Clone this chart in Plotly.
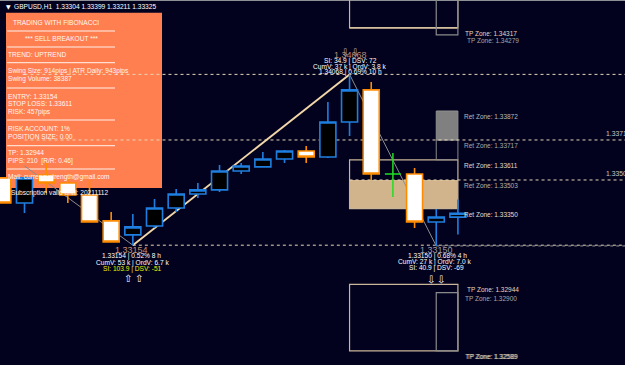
import plotly.graph_objects as go

W, H = 625, 365
BG = "#02021f"
FONT = "Liberation Sans, Arial, sans-serif"

# ---------------- data ----------------
bar_index = list(range(22))
opens  = [1.33514, 1.33380, 1.33530, 1.33487, 1.33423, 1.33284, 1.33209, 1.33257, 1.33353, 1.33428, 1.33450,
          1.33551, 1.33573, 1.33615, 1.33658, 1.33626, 1.33813, 1.33985, 1.33535, 1.33535, 1.33278, 1.33304]
highs  = [1.33514, 1.33514, 1.33594, 1.33514, 1.33503, 1.33332, 1.33321, 1.33401, 1.33455, 1.33487, 1.33583,
          1.33594, 1.33653, 1.33664, 1.33685, 1.33920, 1.34068, 1.34027, 1.33647, 1.33567, 1.33348, 1.33399]
lows   = [1.33380, 1.33326, 1.33433, 1.33380, 1.33278, 1.33171, 1.33154, 1.33246, 1.33332, 1.33407, 1.33439,
          1.33535, 1.33573, 1.33594, 1.33594, 1.33621, 1.33738, 1.33503, 1.33412, 1.33246, 1.33150, 1.33211]
closes = [1.33380, 1.33514, 1.33487, 1.33423, 1.33278, 1.33171, 1.33252, 1.33353, 1.33428, 1.33450, 1.33551,
          1.33578, 1.33615, 1.33658, 1.33626, 1.33813, 1.33985, 1.33535, 1.33535, 1.33278, 1.33305, 1.33325]

swing_low_idx, swing_low = 6, 1.33154
swing_high_idx, swing_high = 16, 1.34068
last_low_idx, last_low = 20, 1.33150
prev_swing_idx, prev_swing = 1, 1.33578
last_idx = 21

tp_top = [1.34317, 1.34279]
tp_top_ceiling = 1.34800
ret_zones = [1.33872, 1.33717, 1.33611, 1.33503, 1.33350]
tp_bottom = [1.32944, 1.32900, 1.32589]

y_range = [1.32513, 1.34466]
x_range = [-0.13, 28.71]

# ---------------- figure ----------------
fig = go.Figure()

norm = [i for i in bar_index if opens[i] != closes[i]]
doji = [i for i in bar_index if opens[i] == closes[i]]

fig.add_trace(go.Candlestick(
    x=[bar_index[i] for i in norm],
    open=[opens[i] for i in norm], high=[highs[i] for i in norm],
    low=[lows[i] for i in norm], close=[closes[i] for i in norm],
    increasing=dict(line=dict(color="#1f7fe0", width=1.6), fillcolor="#000000"),
    decreasing=dict(line=dict(color="#ff8c00", width=1.6), fillcolor="#ffffff"),
    whiskerwidth=0, hoverinfo="skip"))
fig.add_trace(go.Candlestick(
    x=[bar_index[i] for i in doji],
    open=[opens[i] for i in doji], high=[highs[i] for i in doji],
    low=[lows[i] for i in doji], close=[closes[i] for i in doji],
    increasing=dict(line=dict(color="#22dd22", width=1.5), fillcolor="#22dd22"),
    decreasing=dict(line=dict(color="#22dd22", width=1.5), fillcolor="#22dd22"),
    whiskerwidth=0, hoverinfo="skip"))

shapes = []
TAN = "#c9b597"
GRAY = "#8a8a8a"
# zones
shapes.append(dict(type="rect", x0=swing_high_idx, x1=last_idx, y0=ret_zones[4], y1=ret_zones[3],
                   fillcolor="#d2b48c", line=dict(width=0)))
shapes.append(dict(type="rect", x0=swing_high_idx, x1=last_idx, y0=ret_zones[4], y1=ret_zones[2],
                   line=dict(color=TAN, width=1.2)))
shapes.append(dict(type="rect", x0=last_low_idx, x1=last_idx, y0=ret_zones[1], y1=ret_zones[0],
                   fillcolor="#808080", line=dict(color="#909090", width=1)))
shapes.append(dict(type="rect", x0=last_low_idx, x1=last_idx, y0=ret_zones[2], y1=ret_zones[1],
                   line=dict(color=GRAY, width=1)))
shapes.append(dict(type="rect", x0=swing_high_idx, x1=last_idx, y0=tp_top[0], y1=tp_top_ceiling,
                   line=dict(color=TAN, width=1.2)))
shapes.append(dict(type="line", x0=swing_high_idx, x1=last_idx, y0=tp_top[0], y1=tp_top[0],
                   line=dict(color="#e8d2aa", width=1.2)))
shapes.append(dict(type="rect", x0=last_low_idx, x1=last_idx, y0=tp_top[1], y1=tp_top_ceiling,
                   line=dict(color=GRAY, width=1.2)))
shapes.append(dict(type="rect", x0=swing_high_idx, x1=last_idx, y0=tp_bottom[2], y1=tp_bottom[0],
                   line=dict(color=TAN, width=1.2)))
shapes.append(dict(type="rect", x0=last_low_idx, x1=last_idx, y0=tp_bottom[2], y1=tp_bottom[1],
                   line=dict(color=GRAY, width=1.2)))

DASH = dict(color="#e6d6b6", width=1, dash="3px,3px")
shapes.append(dict(type="line", x0=1, x1=x_range[1], y0=swing_high, y1=swing_high, line=DASH))
shapes.append(dict(type="line", x0=1, x1=x_range[1], y0=ret_zones[1], y1=ret_zones[1], line=DASH))
shapes.append(dict(type="line", x0=swing_high_idx, x1=x_range[1], y0=ret_zones[3], y1=ret_zones[3], line=DASH))
shapes.append(dict(type="line", x0=swing_low_idx, x1=x_range[1], y0=swing_low, y1=swing_low, line=DASH))
shapes.append(dict(type="line", x0=last_low_idx, x1=x_range[1], y0=last_low, y1=last_low,
                   line=dict(color="#9a9a9a", width=1, dash="3px,3px")))

# zigzag
shapes.append(dict(type="line", x0=prev_swing_idx, y0=prev_swing, x1=swing_low_idx, y1=swing_low,
                   line=dict(color="#8c8c8c", width=1)))
shapes.append(dict(type="line", x0=swing_high_idx, y0=swing_high, x1=last_low_idx, y1=last_low,
                   line=dict(color="#8c8c8c", width=1)))
shapes.append(dict(type="line", x0=swing_low_idx, y0=swing_low, x1=swing_high_idx, y1=swing_high,
                   line=dict(color="#f2d7a8", width=1.9)))

# info panel
shapes.append(dict(type="rect", xref="paper", yref="paper", x0=6 / W, x1=162 / W,
                   y0=1 - 188 / H, y1=1 - 12.7 / H, fillcolor="#ff7f50", line=dict(width=0)))
for sy in [31, 47, 62.7, 88, 120, 145.7, 169]:
    shapes.append(dict(type="line", xref="paper", yref="paper", x0=7 / W, x1=115 / W,
                       y0=1 - sy / H, y1=1 - sy / H, line=dict(color="#fff2ea", width=1)))
# top window border
shapes.append(dict(type="line", xref="paper", yref="paper", x0=0, x1=1, y0=1, y1=1,
                   line=dict(color="#bfbfbf", width=1.5)))

for s in shapes:
    s.setdefault("layer", "below")

ann = []


def txt(text, x, y, size=6.5, color="#ffffff", xanchor="left", yanchor="middle", family=FONT):
    ann.append(dict(text=text, x=x / W, y=1 - y / H, xref="paper", yref="paper", showarrow=False,
                    xanchor=xanchor, yanchor=yanchor, font=dict(size=size, color=color, family=family),
                    borderpad=0))


# title bar
txt("▼", 5, 6, size=6, family="DejaVu Sans")
txt("GBPUSD,H1\u00a0\u00a01.33304 1.33399 1.33211 1.33325", 13, 6, size=6.6)

panel_lines = [
    (22.7, 11.5, "TRADING WITH FIBONACCI", "left"),
    (38.5, 61, "*** SELL BREAKOUT ***", "center"),
    (55, 7, "TREND: UPTREND", "left"),
    (71, 7, "Swing Size: 914pips | ATR Daily: 943pips", "left"),
    (79.5, 7, "Swing Volume: 38387", "left"),
    (96, 7, "ENTRY: 1.33154", "left"),
    (104, 7, "STOP LOSS: 1.33611", "left"),
    (112, 7, "RISK: 457pips", "left"),
    (128, 7, "RISK ACCOUNT: 1%", "left"),
    (136, 7, "POSITION SIZE: 0.00", "left"),
    (152.7, 7, "TP: 1.32944", "left"),
    (161, 7, "PIPS: 210\u00a0\u00a0[R/R: 0.46]", "left"),
    (177.3, 7, "Mail: currencystrength@gmail.com", "left"),
    (193, 10, "Subscription valid until: 20211112", "left"),
]
for py, px, t, xa in panel_lines:
    txt(t, px, py, size=6.6, color="#fff6f0", xanchor=xa)

# zone labels
zone_labels = [
    (tp_top[0], 462.7, "TP Zone: ", "#e6d8c0"),
    (tp_top[1], 465, "TP Zone: ", "#a8a8a8"),
    (ret_zones[0], 461.7, "Ret Zone: ", "#b8b8b8"),
    (ret_zones[1], 461.7, "Ret Zone: ", "#a8a8a8"),
    (ret_zones[2], 461.7, "Ret Zone: ", "#e0d8c8"),
    (ret_zones[3], 461.7, "Ret Zone: ", "#b8b0a0"),
    (ret_zones[4], 461.7, "Ret Zone: ", "#e6dece"),
    (tp_bottom[0], 465, "TP Zone: ", "#e6d8c0"),
    (tp_bottom[1], 462.7, "TP Zone: ", "#a8a8a8"),
    (tp_bottom[2], 462.7, "TP Zone: ", "#a8a8a8"),
    (tp_bottom[2], 464, "TP Zone: ", "#d8c8a8"),
]
for price, px, pre, col in zone_labels:
    ann.append(dict(text=f"{pre}{price:.5f}", x=px / W, xref="paper", y=price, yref="y",
                    xanchor="left", yanchor="top", showarrow=False, yshift=0,
                    font=dict(size=6.5, color=col, family=FONT)))

# right edge price labels (cut off by the window edge, as in the screenshot)
for price, px in [(ret_zones[1], 603.5), (ret_zones[3], 603.5)]:
    ann.append(dict(text=f"{price:.5f}", x=px / W, xref="paper", y=price, yref="y",
                    xanchor="left", yanchor="bottom", showarrow=False, yshift=1,
                    font=dict(size=6.8, color="#c8c8c8", family=FONT)))

# swing low (left)
txt(f"{swing_low:.5f}", 131, 250, size=9, color="#c8916c", xanchor="center")
txt(f"{swing_low:.5f} | 0.52% 8 h", 131, 256.3, size=6.6, xanchor="center")
txt("CumV: 53 k | OrdV: 6.7 k", 132, 262.5, size=6.6, xanchor="center")
txt("SI: 103.9 | DSV: -51", 132, 268.5, size=6.6, color="#f0f000", xanchor="center")
txt("⇧", 128, 278.5, size=10, xanchor="center", family="DejaVu Sans")
txt("⇧", 138.5, 278.5, size=10, xanchor="center", family="DejaVu Sans")

# swing low (right)
txt(f"{last_low:.5f}", 436.5, 250, size=9, color="#9a9aa6", xanchor="center")
txt(f"{last_low:.5f} | 0.68% 4 h", 437, 256, size=6.6, xanchor="center")
txt("CumV: 27 k | OrdV: 7.0 k", 435, 262.3, size=6.6, xanchor="center")
txt("SI: 40.9 | DSV: -69", 436, 268.3, size=6.6, xanchor="center")
txt("⇩", 430.7, 279, size=10, xanchor="center", family="DejaVu Sans")
txt("⇩", 441, 279, size=10, xanchor="center", family="DejaVu Sans")

# swing high
txt("⇩", 345, 53, size=10, color="#b0b0b8", xanchor="center", family="DejaVu Sans")
txt("⇩", 355, 53, size=10, color="#b0b0b8", xanchor="center", family="DejaVu Sans")
txt(f"{swing_high:.5f}", 350, 55, size=9, color="#b88a70", xanchor="center")
txt("SI: 34.9 | DSV: 72", 350, 60.7, size=6.6, xanchor="center")
txt("CumV: 37 k | OrdV: 3.8 k", 349, 67.5, size=6.6, xanchor="center")
txt(f"{swing_high:.5f} | 0.69% 10 h", 350, 72.3, size=6.6, xanchor="center")

fig.update_layout(
    width=W, height=H, margin=dict(l=0, r=0, t=0, b=0),
    paper_bgcolor=BG, plot_bgcolor=BG, showlegend=False,
    shapes=shapes, annotations=ann,
    boxgap=0.14, boxgroupgap=0.14,
    xaxis=dict(range=x_range, visible=False, rangeslider=dict(visible=False), fixedrange=True),
    yaxis=dict(range=y_range, visible=False, fixedrange=True),
)

fig.write_html("out.html", config={"displayModeBar": False})
